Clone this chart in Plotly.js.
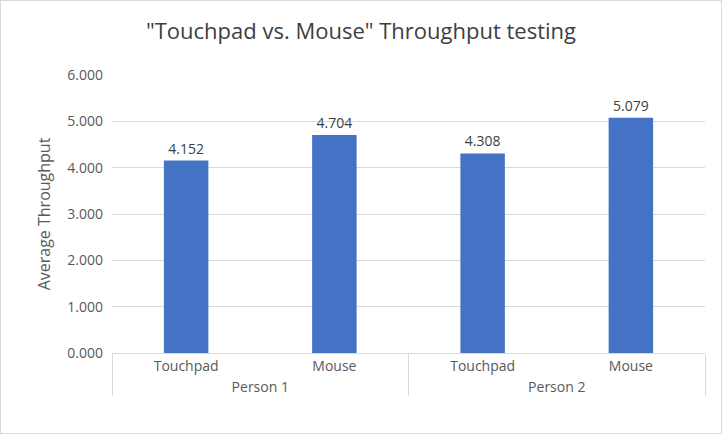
<!DOCTYPE html>
<html><head><meta charset="utf-8">
<script src="https://cdn.plot.ly/plotly-3.0.1.min.js"></script>
<style>body{margin:0}#c{width:722px;height:434px;box-sizing:border-box;border:1px solid #d9d9d9}</style>
</head><body><div id="c"></div>
<script>
const persons = ["Person 1","Person 1","Person 2","Person 2"];
const devices = ["Touchpad","Mouse","Touchpad","Mouse"];
const throughput = [4.152, 4.704, 4.308, 5.079];
const yTicks = [0,1,2,3,4,5,6];
const F = "Open Sans, Liberation Sans, sans-serif";
Plotly.newPlot('c', [{
  type:'bar', x:[persons, devices], y:throughput,
  marker:{color:'#4472c4'}, text:throughput.map(v=>v.toFixed(3)),
  textposition:'outside', cliponaxis:false,
  textfont:{size:14,color:'#404040',family:F}, hoverinfo:'none'
}], {
  width:720, height:432, margin:{l:111,r:16,t:74,b:80},
  paper_bgcolor:'#fff', plot_bgcolor:'#fff', bargap:0.7,
  font:{family:F,color:'#595959',size:14},
  title:{text:'"Touchpad vs. Mouse" Throughput testing', font:{size:22,color:'#404040',family:F}, x:0.5, y:0.93, yanchor:'middle'},
  xaxis:{type:'multicategory', showdividers:true, dividercolor:'#d9d9d9', dividerwidth:1,
    showline:true, linecolor:'#d9d9d9', ticks:'', tickfont:{size:14,color:'#595959'}},
  yaxis:{range:[0,6], tickvals:yTicks, ticktext:yTicks.map(v=>v.toFixed(3)), gridcolor:'#d9d9d9',
    zeroline:false, tickfont:{size:14,color:'#595959'}, ticklabelstandoff:8,
    title:{text:'Average Throughput', font:{size:16,color:'#595959'}, standoff:12}},
  showlegend:false
}, {staticPlot:true});
</script></body></html>
